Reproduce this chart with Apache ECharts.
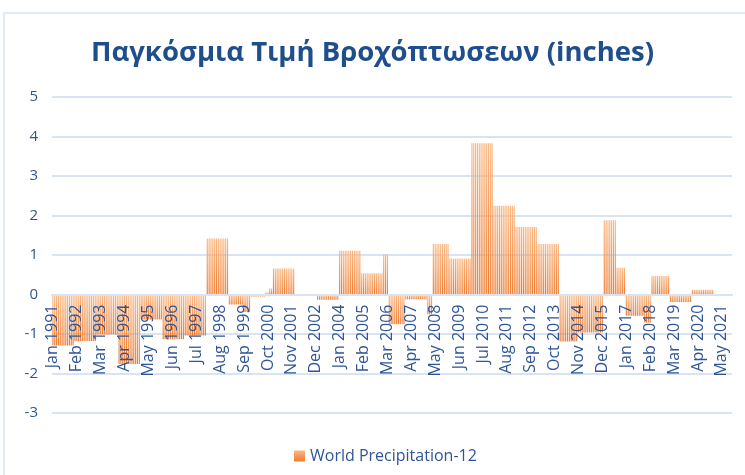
<!DOCTYPE html>
<html>
<head>
<meta charset="utf-8">
<script src="https://cdn.jsdelivr.net/npm/echarts@6.0.0/dist/echarts.min.js"></script>
<style>
html, body { margin: 0; padding: 0; background: #fff; }
#main { width: 745px; height: 475px; }
</style>
</head>
<body>
<div id="main"></div>
<script>
var monthNames = ['Jan', 'Feb', 'Mar', 'Apr', 'May', 'Jun', 'Jul', 'Aug', 'Sep', 'Oct', 'Nov', 'Dec'];
var firstYear = 1991;

// World Precipitation-12, one row per year (Jan..Dec), inches
var precipRows = [
    [-1.29, -1.29, -1.29, -1.29, -1.29, -1.29, -1.29, -1.29, -1.29, -1.29, -1.29, -1.29], // 1991
    [-1.18, -1.18, -1.18, -1.18, -1.18, -1.18, -1.18, -1.18, -1.18, -1.18, -1.18, -1.18], // 1992
    [-1.01, -1.01, -1.01, -1.01, -1.01, -1.01, -1.01, -1.01, -1.01, -1.01, -1.01, -1.01], // 1993
    [-1.76, -1.76, -1.76, -1.76, -1.76, -1.76, -1.76, -1.76, -1.76, -1.76, -1.76, -1.76], // 1994
    [-0.63, -0.63, -0.63, -0.63, -0.63, -0.63, -0.63, -0.63, -0.63, -0.63, -0.63, -0.63], // 1995
    [-1.13, -1.13, -1.13, -1.13, -1.13, -1.13, -1.13, -1.13, -1.13, -1.13, -1.13, -1.13], // 1996
    [-1.04, -1.04, -1.04, -1.04, -1.04, -1.04, -1.04, -1.04, -1.04, -1.04, -1.04, -1.04], // 1997
    [1.42, 1.42, 1.42, 1.42, 1.42, 1.42, 1.42, 1.42, 1.42, 1.42, 1.42, 1.42],             // 1998
    [-0.25, -0.25, -0.25, -0.25, -0.25, -0.25, -0.25, -0.25, -0.44, -0.44, -0.44, -0.44], // 1999
    [-0.05, -0.05, -0.05, -0.05, -0.05, -0.05, -0.05, -0.05, 0.05, 0.05, 0.15, 0.15],     // 2000
    [0.66, 0.66, 0.66, 0.66, 0.66, 0.66, 0.66, 0.66, 0.66, 0.66, 0.66, 0.66],             // 2001
    [0, 0, 0, 0, 0, 0, 0, 0, 0, 0, 0, 0],                                                 // 2002
    [-0.13, -0.13, -0.13, -0.13, -0.13, -0.13, -0.13, -0.13, -0.13, -0.13, -0.13, -0.13], // 2003
    [1.11, 1.11, 1.11, 1.11, 1.11, 1.11, 1.11, 1.11, 1.11, 1.11, 1.11, 1.11],             // 2004
    [0.54, 0.54, 0.54, 0.54, 0.54, 0.54, 0.54, 0.54, 0.54, 0.54, 0.54, 0.54],             // 2005
    [1.02, 1.02, 1.02, -0.75, -0.75, -0.75, -0.75, -0.75, -0.75, -0.75, -0.75, -0.75],    // 2006
    [-0.12, -0.12, -0.12, -0.12, -0.12, -0.12, -0.12, -0.12, -0.12, -0.12, -0.12, -0.12], // 2007
    [-0.5, -0.5, -0.5, 1.28, 1.28, 1.28, 1.28, 1.28, 1.28, 1.28, 1.28, 1.28],             // 2008
    [0.91, 0.91, 0.91, 0.91, 0.91, 0.91, 0.91, 0.91, 0.91, 0.91, 0.91, 0.91],             // 2009
    [3.83, 3.83, 3.83, 3.83, 3.83, 3.83, 3.83, 3.83, 3.83, 3.83, 3.83, 3.83],             // 2010
    [2.25, 2.25, 2.25, 2.25, 2.25, 2.25, 2.25, 2.25, 2.25, 2.25, 2.25, 2.25],             // 2011
    [1.71, 1.71, 1.71, 1.71, 1.71, 1.71, 1.71, 1.71, 1.71, 1.71, 1.71, 1.71],             // 2012
    [1.28, 1.28, 1.28, 1.28, 1.28, 1.28, 1.28, 1.28, 1.28, 1.28, 1.28, 1.28],             // 2013
    [-1.19, -1.19, -1.19, -1.19, -1.19, -1.19, -1.19, -1.19, -1.19, -1.19, -0.96, -0.96], // 2014
    [-0.96, -0.96, -0.96, -0.96, -0.96, -0.96, -0.96, -0.96, -0.96, -0.96, -0.96, -0.96], // 2015
    [1.88, 1.88, 1.88, 1.88, 1.88, 1.88, 1.88, 0.68, 0.68, 0.68, 0.68, 0.68],             // 2016
    [-0.54, -0.54, -0.54, -0.54, -0.54, -0.54, -0.54, -0.54, -0.54, -0.54, -0.71, -0.71], // 2017
    [-0.71, -0.71, 0.47, 0.47, 0.47, 0.47, 0.47, 0.47, 0.47, 0.47, 0.47, 0.47],           // 2018
    [-0.19, -0.19, -0.19, -0.19, -0.19, -0.19, -0.19, -0.19, -0.19, -0.19, -0.19, -0.19], // 2019
    [0.12, 0.12, 0.12, 0.12, 0.12, 0.12, 0.12, 0.12, 0.12, 0.12, 0.12, 0.12],             // 2020
    [-0.03, -0.03, -0.03, -0.03, -0.03, -0.03, -0.03, -0.03, -0.03, -0.03]                // 2021 (to Oct)
];

var categories = [];
var values = [];
precipRows.forEach(function (row, i) {
    row.forEach(function (v, m) {
        categories.push(monthNames[m] + ' ' + (firstYear + i));
        values.push(v);
    });
});

var yMin = -3;
var yMax = 5;
var textBlue = '#2f5597';
var gridBlue = '#d9e3f3';
var font = 'Open Sans';

// plot box
var gridTop = 97;
var gridHeight = 316;
// x axis (line + labels) sits on the zero line, like Excel's category axis
var xAxisShift = -gridHeight * (0 - yMin) / (yMax - yMin);

var barFill = new echarts.graphic.LinearGradient(0, 0, 0, 1, [
    {offset: 0, color: '#fbb985'},
    {offset: 1, color: '#ed7a2e'}
]);

var option = {
    animation: false,
    backgroundColor: '#fff',
    title: {
        text: 'Παγκόσμια Τιμή Βροχόπτωσεων (inches)',
        left: 'center',
        top: 34,
        textStyle: {
            fontFamily: font,
            fontSize: 27.5,
            fontWeight: 'bold',
            color: '#1f4e8c'
        }
    },
    legend: {
        data: ['World Precipitation-12'],
        left: 289,
        top: 443,
        icon: 'rect',
        itemWidth: 11,
        itemHeight: 11,
        itemGap: 6,
        textStyle: {
            fontFamily: font,
            fontSize: 16,
            color: textBlue
        }
    },
    grid: {
        left: 52,
        right: 13,
        top: gridTop,
        height: gridHeight,
        outerBoundsMode: 'none',
        containLabel: false
    },
    xAxis: {
        type: 'category',
        data: categories,
        offset: xAxisShift,
        z: 5,
        axisLine: {
            onZero: false,
            lineStyle: {color: gridBlue, width: 2}
        },
        axisTick: {show: false},
        axisLabel: {
            interval: 12,
            rotate: 90,
            margin: 10,
            fontFamily: font,
            fontSize: 16,
            color: textBlue
        }
    },
    yAxis: {
        type: 'value',
        min: yMin,
        max: yMax,
        interval: 1,
        axisLine: {show: false},
        axisTick: {show: false},
        splitLine: {lineStyle: {color: gridBlue, width: 2}},
        axisLabel: {
            margin: 14,
            fontFamily: font,
            fontSize: 15,
            color: textBlue
        }
    },
    graphic: [{
        type: 'rect',
        shape: {x: 4, y: 13, width: 760, height: 480},
        style: {fill: 'none', stroke: gridBlue, lineWidth: 1.5},
        silent: true
    }],
    series: [{
        name: 'World Precipitation-12',
        type: 'bar',
        data: values,
        barWidth: '62%',
        itemStyle: {color: barFill}
    }]
};

var myChart = echarts.init(document.getElementById('main'));
myChart.setOption(option);
</script>
</body>
</html>
